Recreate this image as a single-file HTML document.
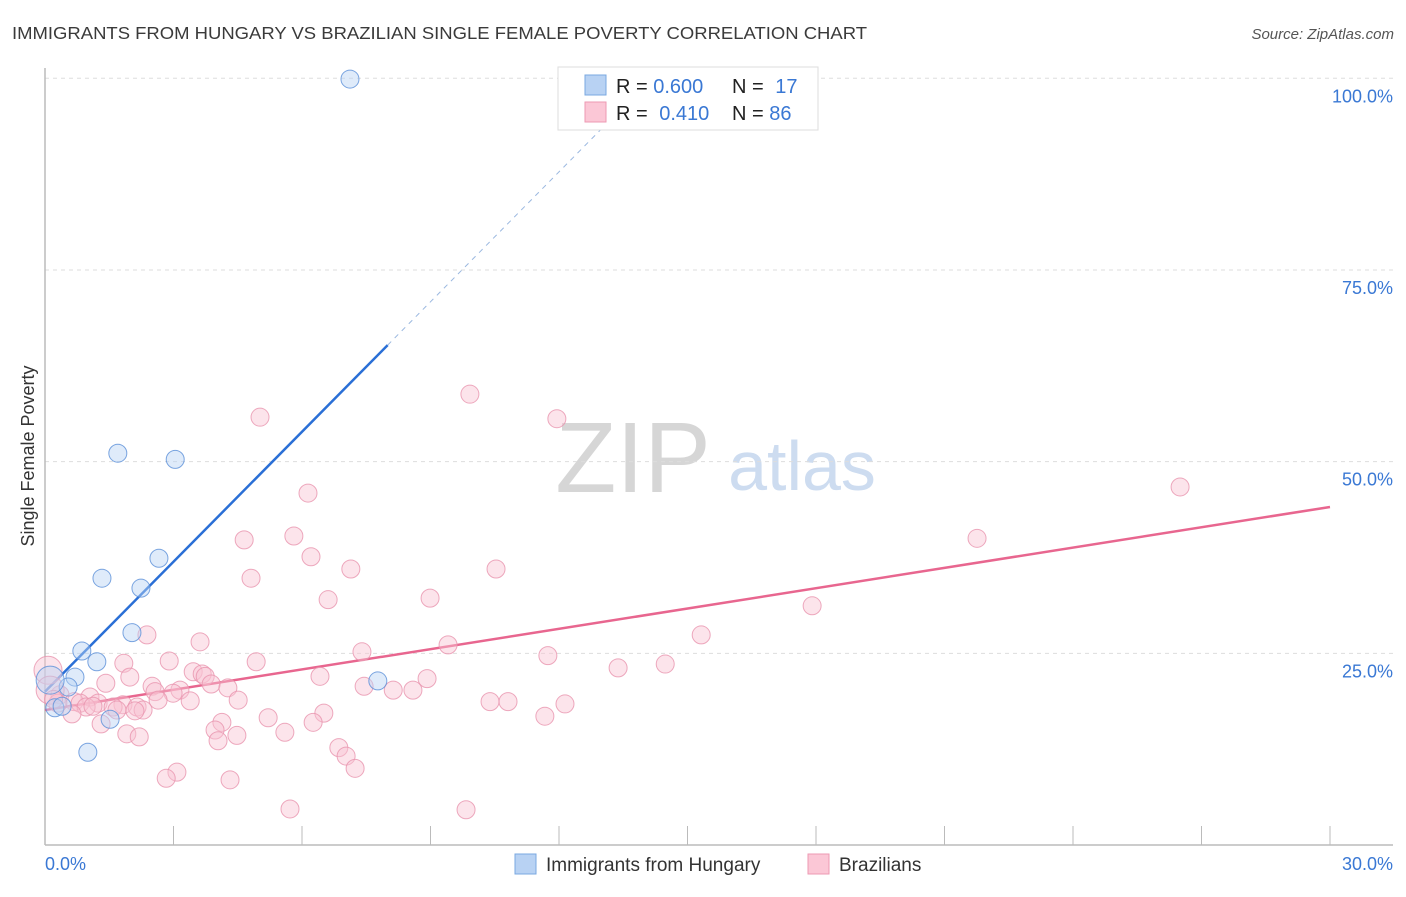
<!DOCTYPE html>
<html><head><meta charset="utf-8"><style>
body{margin:0;background:#fff;font-family:"Liberation Sans",sans-serif;}
svg text{font-family:"Liberation Sans",sans-serif;}
</style></head><body>
<svg id="chart" width="1406" height="892" xmlns="http://www.w3.org/2000/svg">
<text x="12" y="39" font-size="17.5" fill="#3a3a3a" textLength="855" lengthAdjust="spacingAndGlyphs">IMMIGRANTS FROM HUNGARY VS BRAZILIAN SINGLE FEMALE POVERTY CORRELATION CHART</text>
<text x="1394" y="39" font-size="15" fill="#555" text-anchor="end" font-style="italic">Source: ZipAtlas.com</text>
<text transform="translate(34,456) rotate(-90)" font-size="18" fill="#333" text-anchor="middle">Single Female Poverty</text>
<g>
<text x="633" y="492" font-size="100" fill="#d6d6d6" text-anchor="middle" font-family="Liberation Serif,serif">ZIP</text>
<text x="802" y="490" font-size="70" fill="#cddcf0" text-anchor="middle">atlas</text>
</g>
<g id="grid"></g><g id="axes"></g><g id="trend"></g><g id="pts"></g>
<g>
<rect x="558" y="67" width="260" height="63" fill="#fff" stroke="#ddd"/>
<rect x="585" y="75" width="21" height="20" fill="#b8d2f3" stroke="#7aa8e0"/>
<rect x="585" y="102" width="21" height="20" fill="#fbc7d6" stroke="#ee9ab3"/>
<text x="616" y="93" font-size="20" fill="#222">R = <tspan fill="#3a78d4">0.600</tspan></text>
<text x="732" y="93" font-size="20" fill="#222">N = <tspan fill="#3a78d4" dx="6">17</tspan></text>
<text x="616" y="120" font-size="20" fill="#222">R = <tspan fill="#3a78d4" dx="6">0.410</tspan></text>
<text x="732" y="120" font-size="20" fill="#222">N = <tspan fill="#3a78d4">86</tspan></text>
</g>
<g>
<rect x="515" y="854" width="21" height="20" fill="#b8d2f3" stroke="#7aa8e0"/>
<text x="546" y="871" font-size="19" fill="#333">Immigrants from Hungary</text>
<rect x="808" y="854" width="21" height="20" fill="#fbc7d6" stroke="#ee9ab3"/>
<text x="839" y="871" font-size="19" fill="#333">Brazilians</text>
</g>
</svg>
<script>
const xTicks=[0,3,6,9,12,15,18,21,24,27,30];
const yTicks=[25,50,75,100];
const yTickLabels=["25.0%","50.0%","75.0%","100.0%"];
const xEndLabels=["0.0%","30.0%"];
const blueX=[7.12,1.70,3.04,2.66,1.33,2.24,2.03,0.86,1.21,0.70,0.54,7.77,0.23,0.40,1.52,1.00,0.12];
const blueY=[99.9,51.1,50.3,37.4,34.8,33.5,27.7,25.3,23.9,21.9,20.6,21.4,17.9,18.1,16.4,12.1,21.5];
const pinkX=[5.02,9.92,11.95,26.50,21.76,6.14,4.65,5.81,6.21,7.14,10.53,4.81,6.61,8.99,17.91,2.38,3.62,15.32,9.41,7.40,11.74,1.84,2.90,4.93,14.48,13.38,3.46,3.67,3.74,1.98,6.42,8.92,1.42,3.88,2.50,3.15,4.27,7.45,8.13,8.59,2.57,2.99,0.35,1.05,4.51,2.64,3.39,0.68,0.82,1.24,1.82,10.39,10.81,12.14,0.96,1.12,1.59,1.68,2.15,2.29,2.10,0.63,11.67,5.21,6.51,6.26,1.31,4.13,3.97,5.60,1.91,2.20,4.48,4.04,6.86,7.03,7.24,3.08,2.83,4.32,5.72,9.83,0.07,0.12,0.30,0.20];
const pinkY=[55.8,58.8,55.6,46.7,40.0,45.9,39.8,40.3,37.6,36.0,36.0,34.8,32.0,32.2,31.2,27.4,26.5,27.4,26.1,25.2,24.7,23.7,24.0,23.9,23.6,23.1,22.6,22.3,22.0,21.9,22.0,21.7,21.1,21.0,20.7,20.2,20.5,20.7,20.2,20.2,20.0,19.8,19.6,19.3,18.9,18.9,18.8,18.7,18.5,18.5,18.3,18.7,18.7,18.4,18.0,18.1,18.0,17.6,18.0,17.6,17.5,17.1,16.8,16.6,17.2,16.0,15.8,16.0,15.0,14.7,14.5,14.1,14.3,13.6,12.7,11.6,10.0,9.5,8.7,8.5,4.7,4.6,22.8,20.2,18.5,19.0];
const blueTrend=[20.0,5.65];   // intercept, slope
const pinkTrend=[17.6,0.883];
const NS="http://www.w3.org/2000/svg";
const X=v=>45+v*(1285/30), Y=v=>845-v*7.667;
function mk(t,a,p){const e=document.createElementNS(NS,t);for(const k in a)e.setAttribute(k,a[k]);p.appendChild(e);return e;}
const grid=document.getElementById('grid'),axes=document.getElementById('axes'),tr=document.getElementById('trend'),pts=document.getElementById('pts');
yTicks.forEach((t,i)=>{
 const l=mk('line',{x1:45,x2:1393,y1:Y(t),y2:Y(t),stroke:'#ddd','stroke-dasharray':'4,4'},grid);
 
 
 const tx=mk('text',{x:1393,y:Y(t)+24,'font-size':18,fill:'#3a78d4','text-anchor':'end'},axes);
 tx.textContent=yTickLabels[i];
 
 
});
const ya=mk('line',{x1:45,x2:45,y1:68,y2:845,stroke:'#bbb','stroke-width':1.5},axes);


const xa=mk('line',{x1:45,x2:1393,y1:845,y2:845,stroke:'#bbb','stroke-width':1.5},axes);


xTicks.forEach(t=>{const l=mk('line',{x1:X(t),x2:X(t),y1:826,y2:845,stroke:'#bbb'},axes);
 
 });
[[0,'start',45],[30,'end',1393]].forEach((d,i)=>{const t=mk('text',{x:d[2],y:870,'font-size':18,fill:'#3a78d4','text-anchor':d[1]},axes);t.textContent=xEndLabels[i];
 
 });
function dot(x,y,c,s,r,nm){const e=mk('circle',{cx:X(x),cy:Y(y),r:r,fill:c,'fill-opacity':0.45,stroke:s,'stroke-width':1,'stroke-opacity':0.8},pts);
 
 }
pinkX.forEach((x,i)=>dot(x,pinkY[i],'#f8c4d3','#e893ae',i>=82&&i<84?14:9,'brazilian-point'));
blueX.forEach((x,i)=>dot(x,blueY[i],'#b9d3f4','#5a8fd8',i==16?14:9,'hungary-point'));
const bl=mk('line',{x1:X(0),y1:Y(blueTrend[0]),x2:X(8),y2:Y(blueTrend[0]+8*blueTrend[1]),stroke:'#2a6fd6','stroke-width':2.5},tr);


const bd=mk('line',{x1:X(8),y1:Y(blueTrend[0]+8*blueTrend[1]),x2:X(13.3),y2:Y(blueTrend[0]+13.3*blueTrend[1]),stroke:'#9bb8e0','stroke-width':1,'stroke-dasharray':'5,5'},tr);


const pl=mk('line',{x1:X(0),y1:Y(pinkTrend[0]),x2:X(30),y2:Y(pinkTrend[0]+30*pinkTrend[1]),stroke:'#e8668f','stroke-width':2.5},tr);


</script>
</body></html>
